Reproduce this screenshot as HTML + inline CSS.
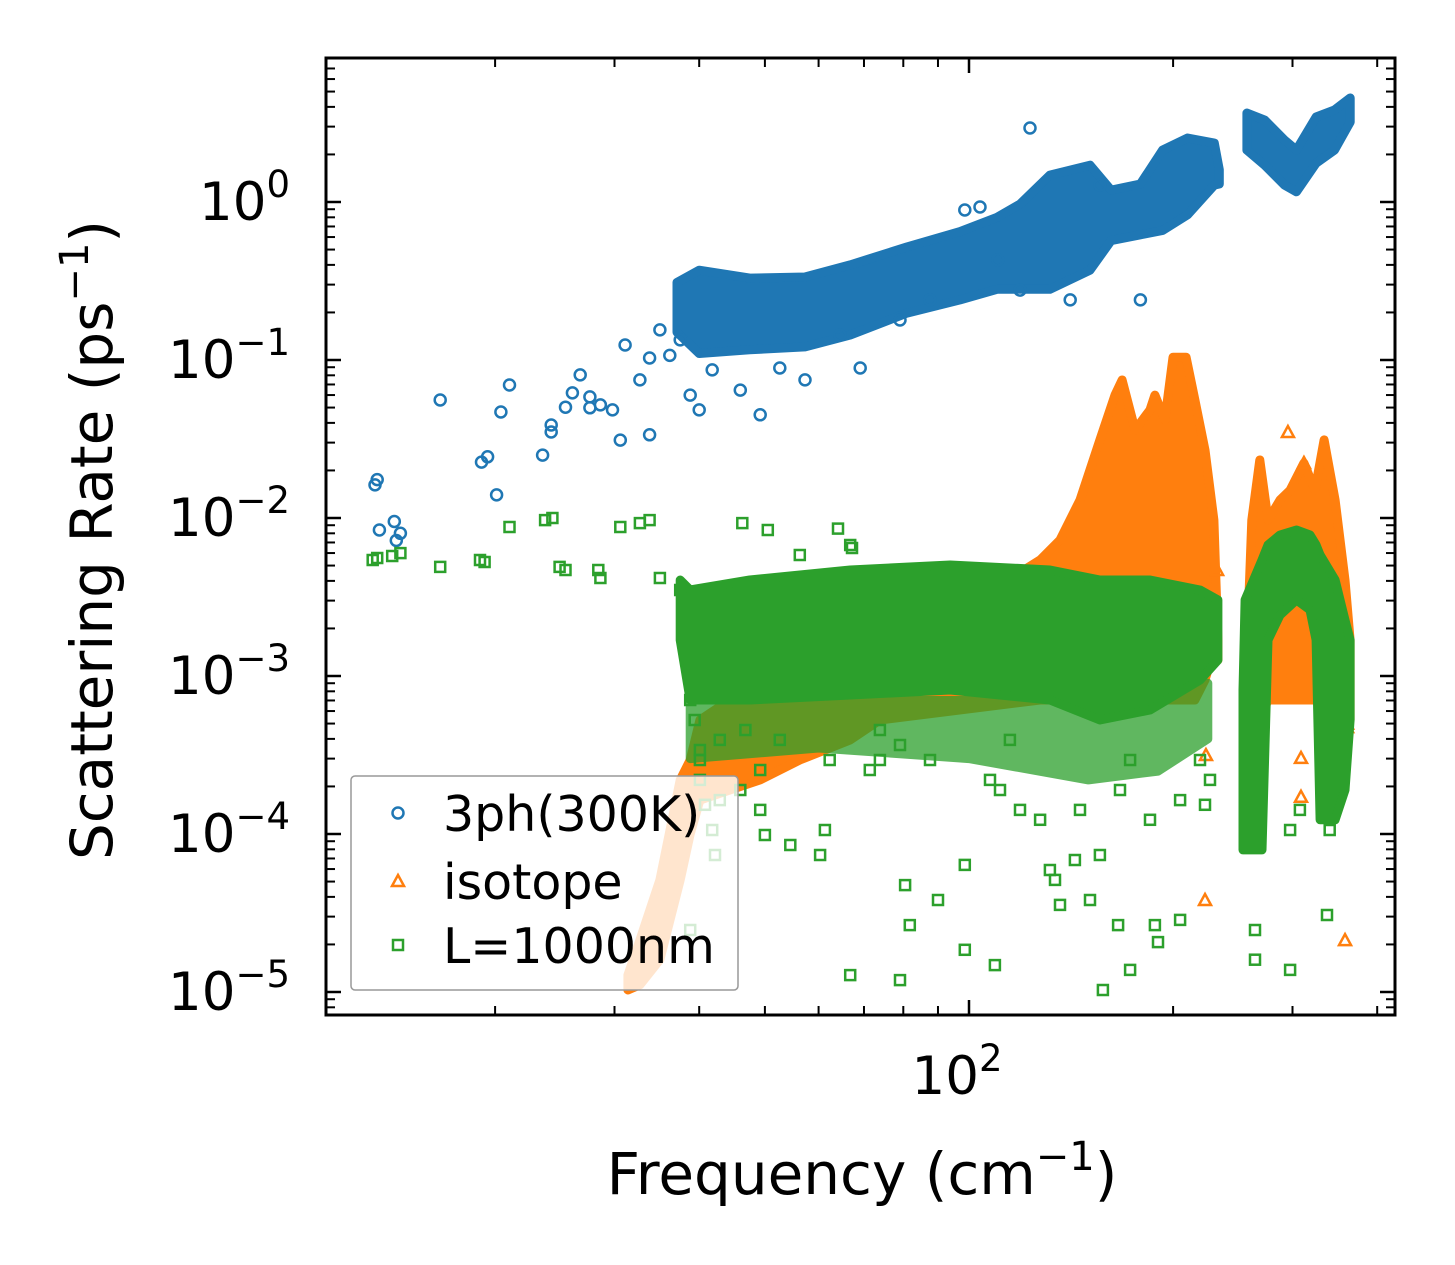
<!DOCTYPE html>
<html><head><meta charset="utf-8"><style>
body{margin:0;background:#fff}
svg{display:block;font-family:"DejaVu Sans","Liberation Sans",sans-serif}
</style></head><body>
<svg id="chart" width="1455" height="1265" viewBox="0 0 1455 1265" xmlns="http://www.w3.org/2000/svg">
<rect width="1455" height="1265" fill="#fff"/>
<g id="marks"></g>
<g id="axes"></g>
<text x="862" y="1194" font-size="58" text-anchor="middle">Frequency (cm<tspan dy="-24" font-size="40">−1</tspan><tspan dy="24">)</tspan></text>
<text transform="translate(112,540) rotate(-90)" font-size="58" text-anchor="middle">Scattering Rate (ps<tspan dy="-24" font-size="40">−1</tspan><tspan dy="24">)</tspan></text>
<g>
<rect x="351" y="776" width="387" height="214" rx="4" fill="#fff" fill-opacity="0.8" stroke="#999" stroke-width="1.5"/>
<circle cx="398" cy="813" r="5.5" fill="none" stroke="#1f77b4" stroke-width="2.5"/>
<text x="443" y="831" font-size="49">3ph(300K)</text>
<path d="M398,875 L404,886 L392,886 Z" fill="none" stroke="#ff7f0e" stroke-width="2.5"/>
<text x="443" y="899" font-size="49">isotope</text>
<rect x="393" y="940" width="10" height="10" fill="none" stroke="#2ca02c" stroke-width="2.5"/>
<text x="443" y="963" font-size="49">L=1000nm</text>
</g>
</svg>
<script>
// ---- data (frequency cm^-1, rate ps^-1) ----
const xTickMajor = [100];
const xTickMajorLabels = ["2"];
const xTickMinor = [20,30,40,50,60,70,80,90,200,300,400];
const yTickExps = [0,-1,-2,-3,-4,-5];
const yTickLabels = ["0","−1","−2","−3","−4","−5"];

// dense band envelopes: [freq, upper, lower]
const blueBandA = [[37.1,0.31,0.15],[40.0,0.37,0.11],[47.5,0.33,0.116],[57.3,0.335,0.121],[66.8,0.40,0.144],[81.0,0.52,0.198],[97.0,0.65,0.24],[110,0.80,0.28],[118.9,0.97,0.28],[131.6,1.48,0.28],[150.8,1.71,0.37],[162,1.19,0.57],[179,1.3,0.62],[193,2.13,0.66],[210,2.54,0.83],[230,2.36,1.28],[234,1.6,1.3]];
const blueBandB = [[257,3.66,2.13],[273,3.30,1.71],[292,2.47,1.28],[304,2.13,1.16],[325,3.45,1.76],[346,3.82,2.13],[365,4.55,3.21]];
const blueFreq = [13.3,13.4,13.5,14.2,14.3,14.5,16.6,19.1,19.5,20.1,21.0,23.5,24.2,25.4,26.0,26.7,27.6,28.6,29.8,31.1,32.7,33.8,35.0,36.2,37.5,38.8,41.8,46.0,49.2,52.6,57.3,64.5,69.1,79.1,87.6,98.6,103.8,110.3,118.9,123,141,156,179,20.4,27.6,30.6,33.8,24.2,40.0];
const blueRate = [0.0162,0.0175,0.0084,0.0095,0.0072,0.0080,0.0558,0.0226,0.0244,0.0140,0.0695,0.0250,0.0350,0.0503,0.0619,0.0805,0.0584,0.0520,0.0483,0.1245,0.0748,0.103,0.155,0.107,0.134,0.060,0.0866,0.0645,0.045,0.089,0.0748,0.144,0.089,0.179,0.240,0.89,0.93,0.43,0.277,2.94,0.24,1.28,0.24,0.0469,0.0498,0.0311,0.0336,0.0388,0.0483];

const orangeBandA = [[31.4,1.28e-5,1.03e-5],[32.7,2.13e-5,1.11e-5],[35.0,5.12e-5,1.6e-5],[37.5,2.2e-4,5.12e-5],[38.8,2.94e-4,1.0e-4],[40.1,5.27e-4,1.64e-4],[44.4,7.05e-4,1.9e-4],[49.2,8.15e-4,2.2e-4],[56.3,8.15e-4,2.94e-4],[66.8,0.00109,3.94e-4],[73.9,0.00126,5.27e-4],[127.3,0.00542,7.05e-4],[136.2,0.00726,7.05e-4],[145.8,0.013,7.05e-4],[156.0,0.0312,7.05e-4],[164.2,0.06,7.05e-4],[168.2,0.0747,7.05e-4],[175.8,0.0361,7.05e-4],[184.9,0.0483,7.05e-4],[188.0,0.06,7.05e-4],[194.5,0.0417,7.05e-4],[199.9,0.104,7.05e-4],[209.0,0.104,7.05e-4],[215.4,0.0558,7.05e-4],[222.9,0.0269,9.44e-4],[229.7,0.0097,0.00146],[232.9,0.00169,0.00126]];
const orangeBandB = [[255.4,7.05e-4,2.94e-4],[261.3,0.0097,2.94e-4],[268.5,0.0233,5.27e-4],[276.1,0.0097,7.05e-4],[287.5,0.013,7.05e-4],[297.6,0.015,7.05e-4],[311.9,0.0223,7.05e-4],[323.8,0.015,7.05e-4],[334.0,0.0312,7.05e-4],[346.7,0.013,7.05e-4],[358.6,0.00405,5.27e-4],[364.8,0.00169,5.27e-4]];
const orangeFreq = [223.6,308.8,308.8,295.4,361.1,232.2,222.9,358.6,361.1,311.9];
const orangeRate = [3.16e-4,3.03e-4,1.72e-4,0.035,4.75e-4,0.00469,3.82e-5,2.13e-5,5e-4,0.0223];

const greenBandA = [[37.5,0.00405,0.00169],[38.8,0.0035,7.05e-4],[47.5,0.00405,7.05e-4],[66.8,0.00469,7.58e-4],[93.8,0.00504,8.15e-4],[131.6,0.00469,7.05e-4],[156,0.00405,5.27e-4],[184.9,0.00405,6.09e-4],[219.1,0.0035,9.44e-4],[232.9,0.00303,0.00126]];
const greenBandLow = [[38.8,7e-4,3e-4],[60,7e-4,3.5e-4],[100,7e-4,3e-4],[150,6e-4,2.2e-4],[190,6e-4,2.5e-4],[225,9e-4,4e-4]];
const greenBandB = [[253.6,0.000815,7.93e-5],[255.4,0.00303,7.93e-5],[270.5,0.00542,7.93e-5],[276.1,0.00675,0.00169],[287.5,0.0078,0.00243],[304,0.00839,0.00303],[318.4,0.0078,0.00262],[325,0.00675,0.00169],[329.5,0.00583,0.000123],[346.7,0.00405,0.000123],[358.6,0.00226,0.00019],[364.8,0.00169,0.000527]];
const greenFreq = [13.2,13.4,14.1,14.5,16.6,19.0,19.3,21.0,23.7,24.3,24.9,25.4,28.4,28.6,30.6,32.7,33.8,35.0,37.5,38.8,39.4,40.1,40.8,41.8,42.2,46.3,50.5,56.3,64.1,66.8,67.2,38.8,40.1,42.9,46.0,49.2,50.0,54.5,60.3,61.3,66.8,71.4,73.9,79.1,80.5,81.8,90.0,98.6,98.6,107.4,109.2,118.9,131.6,133.9,136.2,143.3,150.8,156.0,157.6,165.9,172.8,188.0,190.0,204.8,222.9,226.7,264.1,297.6,337.3,264.1,297.6,307.6,340.4,40.1,49.2,62.3,87.6,111.1,127.3,145.8,167.0,184.9,204.8,42.9,52.6,73.9,114.9,172.8,219.1,46.8,79.1];
const greenRate = [0.00542,0.00558,0.00575,0.00600,0.00490,0.00542,0.00527,0.00877,0.0097,0.0100,0.0049,0.00469,0.00469,0.00417,0.00877,0.00929,0.0097,0.00417,0.0035,0.000705,0.000527,0.00034,0.000153,0.000106,7.36e-5,0.00929,0.00839,0.00583,0.00857,0.00675,0.00646,2.47e-5,0.000294,0.000164,0.00019,0.000142,9.86e-5,8.52e-5,7.36e-5,0.000106,1.28e-5,0.000254,0.000294,1.19e-5,4.75e-5,2.65e-5,3.82e-5,1.85e-5,6.37e-5,0.00022,1.48e-5,0.000142,5.92e-5,5.12e-5,3.56e-5,6.85e-5,3.82e-5,7.36e-5,1.03e-5,2.65e-5,1.38e-5,2.65e-5,2.07e-5,2.86e-5,0.000153,0.00022,1.6e-5,1.38e-5,3.07e-5,2.47e-5,0.000106,0.000142,0.000106,0.00022,0.000254,0.000294,0.000294,0.00019,0.000123,0.000142,0.00019,0.000123,0.000164,0.000394,0.000394,0.000455,0.000394,0.000294,0.000294,0.000455,0.000366];

// ---- scales ----
const X0 = 969, XD = 678, Y0 = 202, YD = 158;
const L = 326, R = 1395, T = 58, B = 1015;
function xs(f){ return X0 + XD*(Math.log10(f) - 2); }
function ys(r){ return Y0 - YD*Math.log10(r); }
const NS = "http://www.w3.org/2000/svg";
const marks = document.getElementById('marks');
const axes = document.getElementById('axes');
function mk(tag, attrs, parent){
  const e = document.createElementNS(NS, tag);
  for (const k in attrs) e.setAttribute(k, attrs[k]);
  parent.appendChild(e); return e;
}
const defs = mk('defs', {}, marks);
const cp = mk('clipPath', {id:'clip'}, defs);
mk('rect', {x:L, y:T, width:R-L, height:B-T}, cp);
const g = mk('g', {'clip-path':'url(#clip)'}, marks);



function band(data, color, name, op){
  let d = '';
  data.forEach((p,i)=>{ d += (i?'L':'M') + xs(p[0]).toFixed(1) + ',' + ys(p[1]).toFixed(1); });
  for (let i=data.length-1;i>=0;i--) d += 'L' + xs(data[i][0]).toFixed(1) + ',' + ys(data[i][2]).toFixed(1);
  d += 'Z';
  const e = mk('path', {d:d, fill:color, stroke:color, 'stroke-width':9, 'stroke-linejoin':'round', opacity:op||1}, g);
  
  
}
function circles(fx, ry, color, name){
  fx.forEach((f,i)=>{
    const e = mk('circle', {cx:xs(f).toFixed(1), cy:ys(ry[i]).toFixed(1), r:5.5, fill:'none', stroke:color, 'stroke-width':2.5}, g);
    
    
  });
}
function tris(fx, ry, color, name){
  fx.forEach((f,i)=>{
    const x = xs(f), y = ys(ry[i]);
    const e = mk('path', {d:`M${x},${y-6}L${x+6},${y+5}L${x-6},${y+5}Z`, fill:'none', stroke:color, 'stroke-width':2.5}, g);
    
    
  });
}
function squares(fx, ry, color, name){
  fx.forEach((f,i)=>{
    const e = mk('rect', {x:(xs(f)-5).toFixed(1), y:(ys(ry[i])-5).toFixed(1), width:10, height:10, fill:'none', stroke:color, 'stroke-width':2.5}, g);
    
    
  });
}
const BLUE='#1f77b4', ORANGE='#ff7f0e', GREEN='#2ca02c';
band(blueBandA, BLUE, 'band-3ph-low');
band(blueBandB, BLUE, 'band-3ph-high');
circles(blueFreq, blueRate, BLUE, 'point-3ph');
band(orangeBandA, ORANGE, 'band-isotope-low');
band(orangeBandB, ORANGE, 'band-isotope-high');
tris(orangeFreq, orangeRate, ORANGE, 'point-isotope');
band(greenBandLow, GREEN, 'band-boundary-sparse', 0.75);
band(greenBandA, GREEN, 'band-boundary-main');
band(greenBandB, GREEN, 'band-boundary-high');
squares(greenFreq, greenRate, GREEN, 'point-boundary');

// ---- axes ----
const frame = mk('rect', {x:L, y:T, width:R-L, height:B-T, fill:'none', stroke:'#000', 'stroke-width':3}, axes);


function line(x1,y1,x2,y2,w,name){
  const e = mk('line', {x1:x1,y1:y1,x2:x2,y2:y2,stroke:'#000','stroke-width':w}, axes);
  
  
}
xTickMajor.forEach((v,i)=>{
  const x = xs(v);
  line(x,B,x,B-15,2.5,'x-major-tick');
  line(x,T,x,T+15,2.5,'x-major-tick-top');
  const t = mk('text', {x:x-12, y:1094, 'font-size':53, 'text-anchor':'middle'}, axes);
  
  
  t.innerHTML = '10<tspan dy="-23" font-size="37">' + xTickMajorLabels[i] + '</tspan>';
});
xTickMinor.forEach(v=>{
  const x = xs(v);
  line(x,B,x,B-9,2,'x-minor-tick');
  line(x,T,x,T+9,2,'x-minor-tick-top');
});
yTickExps.forEach((e,i)=>{
  const y = ys(Math.pow(10,e));
  line(L,y,L+15,y,2.5,'y-major-tick');
  line(R,y,R-15,y,2.5,'y-major-tick-right');
  const t = mk('text', {x:290, y:y+18, 'font-size':53, 'text-anchor':'end'}, axes);
  
  
  t.innerHTML = '10<tspan dy="-23" font-size="37">' + yTickLabels[i] + '</tspan>';
});
for (let d=-6; d<=0; d++){
  for (let k=2;k<=9;k++){
    const y = ys(k*Math.pow(10,d));
    if (y < T+2 || y > B-2) continue;
    line(L,y,L+9,y,2,'y-minor-tick');
    line(R,y,R-9,y,2,'y-minor-tick-right');
  }
}
</script>
</body></html>
